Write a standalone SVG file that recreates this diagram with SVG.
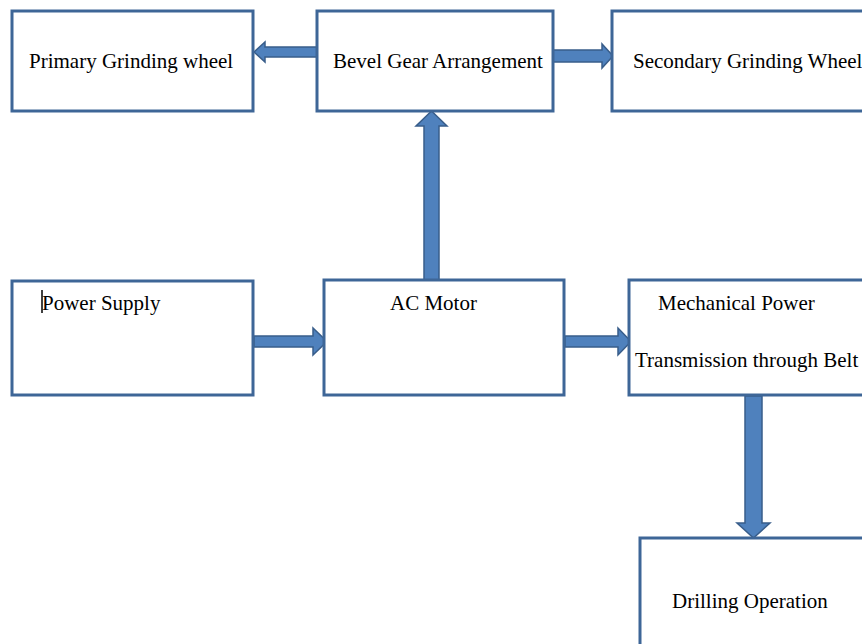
<svg xmlns="http://www.w3.org/2000/svg" width="862" height="644" viewBox="0 0 862 644">
<style>
.box{fill:#ffffff;stroke:#3e6697;stroke-width:3}
.arr{fill:#4f81bd;stroke:#385d8a;stroke-width:1.5;stroke-linejoin:miter}
.t{font-family:"Liberation Serif","Times New Roman",serif;font-size:21px;fill:#000000}
</style>
<rect width="862" height="644" fill="#ffffff"/>
<g id="connectors">
<polygon class="arr" points="317,47 265,47 265,42 254,52 265,62 265,57 317,57"/>
<polygon class="arr" points="553,50 602,50 602,44 613,56 602,68 602,62 553,62"/>
<polygon class="arr" points="424,280 424,126 416,126 431.5,111 447,126 439,126 439,280"/>
<polygon class="arr" points="254,336 313,336 313,328 327,341.5 313,355 313,347 254,347"/>
<polygon class="arr" points="565,336 618,336 618,328 631,341.5 618,355 618,347 565,347"/>
<polygon class="arr" points="745,396 745,523 737,523 753.5,538 770,523 762,523 762,396"/>
</g>
<g id="primary">
<rect class="box" x="12" y="11" width="241" height="100"/>
<text class="t" x="29" y="68">Primary Grinding wheel</text>
</g>
<g id="bevel">
<rect class="box" x="317" y="11" width="236" height="100"/>
<text class="t" x="333" y="68">Bevel Gear Arrangement</text>
</g>
<g id="secondary">
<rect class="box" x="612" y="11" width="260" height="100"/>
<text class="t" x="633" y="68">Secondary Grinding Wheel</text>
</g>
<g id="power">
<rect class="box" x="12" y="281" width="241" height="114"/>
<line x1="42" y1="290" x2="42" y2="313" stroke="#000000" stroke-width="1.5"/>
<text class="t" x="42" y="310">Power Supply</text>
</g>
<g id="motor">
<rect class="box" x="324" y="280" width="240" height="115"/>
<text class="t" x="390" y="310">AC Motor</text>
</g>
<g id="mech">
<rect class="box" x="629" y="280" width="243" height="115"/>
<text class="t" x="658" y="310">Mechanical Power</text>
<text class="t" x="635" y="367">Transmission through Belt</text>
</g>
<g id="drilling">
<rect class="box" x="640" y="538" width="232" height="116"/>
<text class="t" x="672" y="608">Drilling Operation</text>
</g>
</svg>
